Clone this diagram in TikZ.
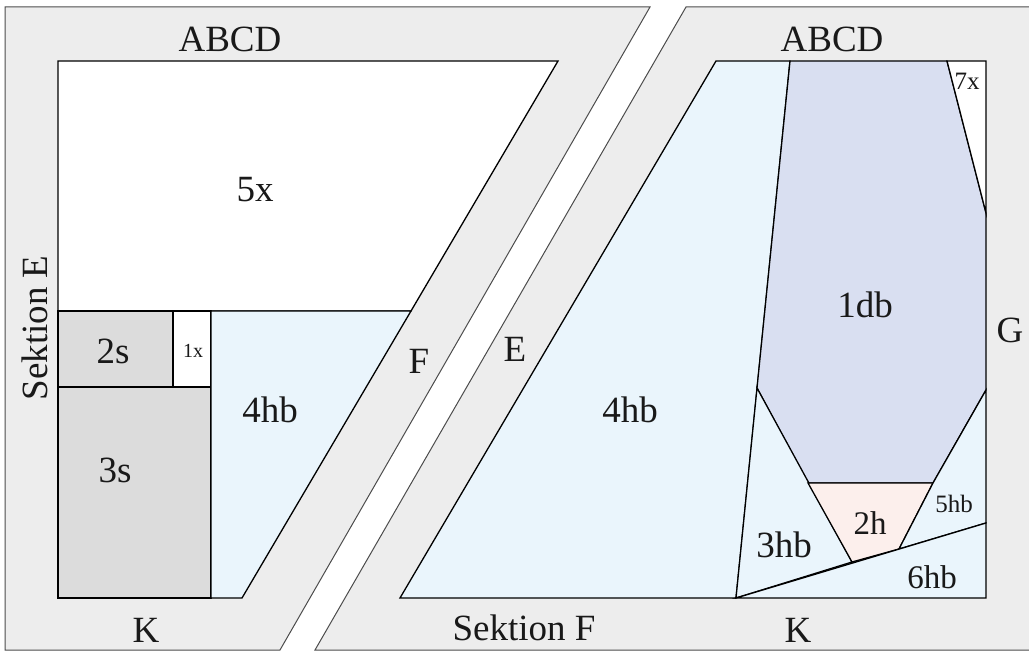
\documentclass[tikz,border=0pt]{standalone}
\usepackage{fontspec}
\setmainfont{Liberation Serif}
\usepackage{tikz}
\usepackage{xcolor}
\definecolor{panelgray}{HTML}{EDEDED}
\definecolor{hbblue}{HTML}{EAF5FC}
\definecolor{dbblue}{HTML}{D9DFF1}
\definecolor{hred}{HTML}{FCEFEC}
\definecolor{sgray}{HTML}{DCDCDC}
\tikzstyle{region} = [draw=black, line width=1.3pt, line join=miter]
\tikzstyle{panel} = [draw=black!70, line width=1pt]

\begin{document}
\begin{tikzpicture}[x=1pt,y=-1pt]
			\tikzset{every node/.style={inner sep=0pt, text=black!90, font=\fontsize{37}{40}\selectfont}}
\useasboundingbox (0,0) rectangle (1029,652);

% panels
\filldraw[panel, fill=panelgray] (5,7) -- (650,7) -- (280,650) -- (5,650) -- cycle;
\fill[panelgray] (686,7) -- (1040,7) -- (1040,650) -- (315,650) -- cycle;
\draw[panel] (1040,7) -- (686,7) -- (315,650) -- (1040,650);

% left section
\coordinate (la) at (58,61);
\coordinate (lb) at (558,61);
\coordinate (lc) at (411,311);
\coordinate (ld) at (58,311);
\coordinate (le) at (242,598);
\coordinate (lf) at (58,598);
\filldraw[region, fill=white] (la) -- (lb) -- (lc) -- (ld) -- cycle;
\filldraw[region, fill=sgray] (ld) rectangle (173,387);
\filldraw[region, fill=white] (173,311) rectangle (211,387);
\filldraw[region, fill=sgray] (58,387) rectangle (211,598);
\filldraw[region, fill=hbblue] (211,311) -- (lc) -- (le) -- (211,598) -- cycle;

% right section
\coordinate (ra) at (716,61);
\coordinate (rb) at (790,61);
\coordinate (rc) at (947,61);
\coordinate (rd) at (986,61);
\coordinate (re) at (986,213);
\coordinate (rf) at (986,390);
\coordinate (rg) at (986,523);
\coordinate (rh) at (986,598);
\coordinate (ri) at (736,598);
\coordinate (rj) at (400,598);
\coordinate (rk) at (757,388);
\coordinate (rl) at (808,483);
\coordinate (rm) at (933,483);
\coordinate (rn) at (899,549);
\coordinate (ro) at (852,562);
\filldraw[region, fill=hbblue] (ra) -- (rb) -- (ri) -- (rj) -- cycle;
\filldraw[region, fill=dbblue] (rb) -- (rc) -- (re) -- (rf) -- (rm) -- (rl) -- (rk) -- cycle;
\filldraw[region, fill=white] (rc) -- (rd) -- (re) -- cycle;
\filldraw[region, fill=hbblue] (rk) -- (ro) -- (ri) -- cycle;
\filldraw[region, fill=hred] (rl) -- (rm) -- (rn) -- (ro) -- cycle;
\filldraw[region, fill=hbblue] (rf) -- (rm) -- (rn) -- (rg) -- cycle;
\filldraw[region, fill=hbblue] (ri) -- (rg) -- (rh) -- cycle;

% labels
\node (abcdl) at (230,39) {ABCD};
\node (fivex) at (255,190) {5x};
\node (twos) at (113,351) {2s};
\node[font=\fontsize{20}{22}\selectfont] (onex) at (193,351) {1x};
\node (fourhbl) at (270,410) {4hb};
\node (threes) at (115,470) {3s};
\node (kl) at (146,630) {K};
\node[rotate=90] (sekte) at (35,328) {Sektion E};
\node (fl) at (419,361) {F};
\node (el) at (515,349) {E};
\node (abcdr) at (832,39) {ABCD};
\node[font=\fontsize{25}{27}\selectfont] (sevenx) at (967,81) {7x};
\node (onedb) at (865,305) {1db};
\node (gl) at (1010,330) {G};
\node (fourhbr) at (630,410) {4hb};
\node (threehb) at (784,545) {3hb};
\node[font=\fontsize{33}{35}\selectfont] (twoh) at (870,523) {2h};
\node[font=\fontsize{25}{27}\selectfont] (fivehb) at (954,504) {5hb};
\node[font=\fontsize{33}{35}\selectfont] (sixhb) at (932,577) {6hb};
\node (kr) at (798,630) {K};
\node (sektf) at (524,628) {Sektion F};

		\end{tikzpicture}
\end{document}
